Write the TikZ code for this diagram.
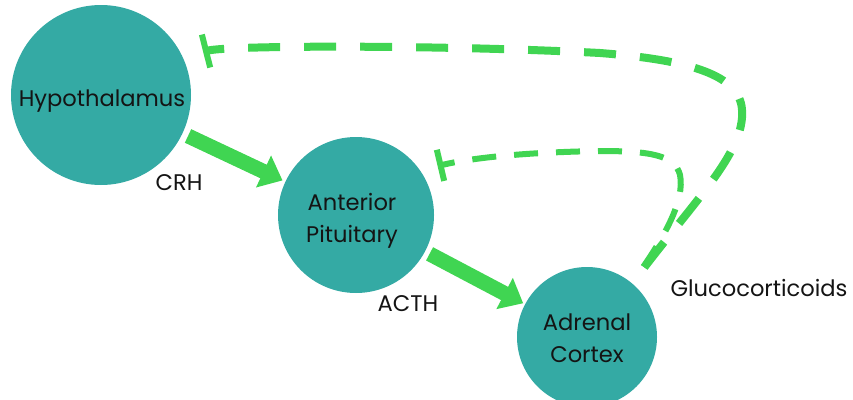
\documentclass[tikz,border=0pt]{standalone}
\usepackage{fontspec}
\setmainfont{Poppins}
\usetikzlibrary{arrows.meta}
\definecolor{bubbleteal}{RGB}{52,170,164}
\definecolor{leafgreen}{RGB}{64,213,82}
\definecolor{inkgray}{RGB}{20,20,20}

\begin{document}
\begin{tikzpicture}[x=1pt,y=-1pt,
  bubble/.style={circle,fill=bubbleteal,inner sep=0pt},
  lbl/.style={font=\fontsize{22.6}{32}\selectfont, text=inkgray, align=center, inner sep=0pt},
  signal/.style={leafgreen, line width=15pt, -{Triangle[width=34pt,length=21pt]}},
  feedback/.style={leafgreen, line width=8pt, dash pattern=on 32pt off 24pt,
    -{Bar[width=34pt,line width=6pt]}},
  shortloop/.style={leafgreen, line width=6pt, dash pattern=on 24pt off 18pt,
    -{Bar[width=32pt,line width=6pt]}}]

\useasboundingbox (0,0) rectangle (853,399);
\clip (0,0) rectangle (853,399);

% glands
\node[bubble, minimum size=180pt] (hyp) at (101,95) {};
\node[bubble, minimum size=156pt] (pit) at (356,215) {};
\node[bubble, minimum size=140pt] (adr) at (587,337) {};

\node[lbl] (hyptext) at (102,101) {Hypothalamus};
\node[lbl] (pittext) at (352,221) {Anterior\\Pituitary};
\node[lbl] (adrtext) at (587,338) {Adrenal\\Cortex};

% releasing hormones
\draw[signal, shorten <=6pt, shorten >=3pt] (hyp) -- (pit);
\draw[signal, shorten <=5pt, shorten >=2pt] (pit) -- (adr);

\node[lbl] (crh) at (179,183) {CRH};
\node[lbl] (acth) at (408,304) {ACTH};
\node[lbl] (gluco) at (759,288) {Glucocorticoids};

% negative feedback loops
\draw[feedback, shorten <=20pt, shorten >=21pt] (adr.50)
  .. controls (700,195) and (745,150) .. (742,110)
  .. controls (740,75) and (690,60) .. (600,53)
  .. controls (450,45) and (230,45) .. (hyp.25);
\draw[shortloop, shorten <=20pt, shorten >=18pt] (adr.50)
  .. controls (665,235) and (685,200) .. (680,175)
  .. controls (675,155) and (650,151) .. (600,151)
  .. controls (540,152) and (480,156) .. (pit.35);
\end{tikzpicture}
\end{document}
